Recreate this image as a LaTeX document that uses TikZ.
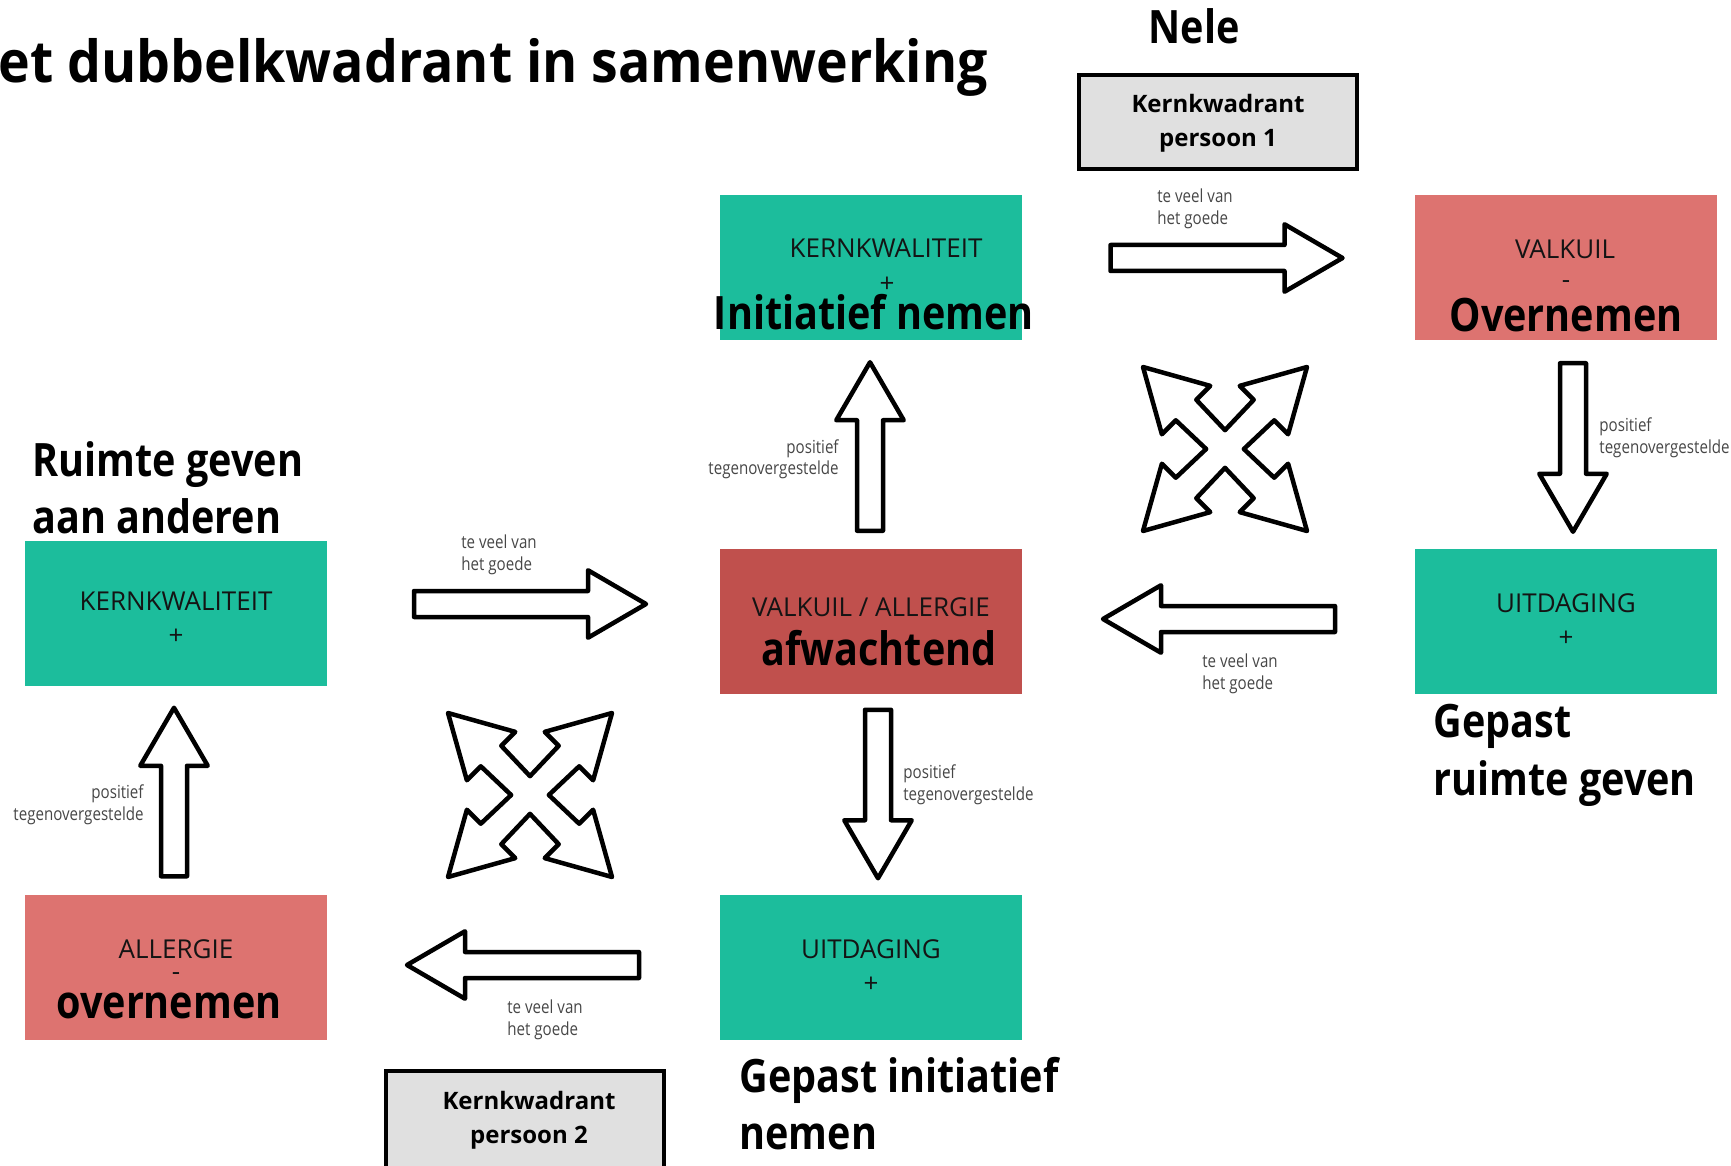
\documentclass[tikz,border=0pt]{standalone}
\usepackage{fontspec}
\setmainfont{Open Sans}
\newfontfamily\notefont{Open Sans}[FakeStretch=0.84]
\newfontfamily\headfont{Open Sans}[FakeStretch=0.86]
\newfontfamily\titlefam{Open Sans}[FakeStretch=0.925]

\definecolor{kqgreen}{RGB}{28,189,156}
\definecolor{vklight}{RGB}{221,115,112}
\definecolor{vkdark}{RGB}{192,80,77}
\definecolor{kwgray}{RGB}{224,224,224}
\definecolor{notegray}{RGB}{70,70,70}
\definecolor{ink}{RGB}{20,20,20}

\tikzset{
  quad/.style={rectangle, inner sep=0pt, minimum width=151pt, minimum height=72.5pt},
  persbox/.style={rectangle, draw=black, line width=2pt, fill=kwgray, inner sep=0pt,
                  minimum width=139pt, minimum height=47pt},
  caps/.style={font=\fontsize{13}{15}\selectfont, text=ink, inner sep=0pt, anchor=base},
  sign/.style={font=\fontsize{13}{15}\selectfont, text=ink, inner sep=0pt, anchor=center},
  heading/.style={font=\headfont\bfseries\fontsize{23}{28}\selectfont, inner sep=0pt},
  titlefont/.style={font=\titlefam\bfseries\fontsize{29}{34}\selectfont, inner sep=0pt},
  persname/.style={font=\bfseries\fontsize{12}{14}\selectfont, inner sep=0pt, anchor=base},
  note/.style={font=\notefont\fontsize{9}{11}\selectfont, text=notegray, inner sep=0pt},
  outline/.style={draw=black, fill=white, line width=2.25pt, line join=round},
  % hollow block arrow of total length #1 (px), centred on the pic origin, pointing right
  pics/blockarrow/.style={code={
    \draw[outline]
      (-#1/2,-13) -- (#1/2-58,-13) -- (#1/2-58,-33.75) -- (#1/2,0)
      -- (#1/2-58,33.75) -- (#1/2-58,13) -- (-#1/2,13) -- cycle;
  }},
  % four diagonal arrows joined in the middle
  pics/crossarrow/.style={code={
    \draw[outline]
      (-1,-1) -- (-0.18,-0.77) -- (-0.35,-0.6) -- (0,-0.23) -- (0.35,-0.6) -- (0.18,-0.77)
      -- (1,-1) -- (0.77,-0.18) -- (0.6,-0.35) -- (0.23,0) -- (0.6,0.35) -- (0.77,0.18)
      -- (1,1) -- (0.18,0.77) -- (0.35,0.6) -- (0,0.23) -- (-0.35,0.6) -- (-0.18,0.77)
      -- (-1,1) -- (-0.77,0.18) -- (-0.6,0.35) -- (-0.23,0) -- (-0.6,-0.35) -- (-0.77,-0.18)
      -- cycle;
  }}
}

\begin{document}
\begin{tikzpicture}[x=0.5pt,y=-0.5pt]
\useasboundingbox (0,0) rectangle (1731,1166);

% headings
\node[titlefont, anchor=base west] (title) at (-2,83) {et dubbelkwadrant in samenwerking};
\node[heading, anchor=base] (nele) at (1194,44) {Nele};

% person boxes
\node[persbox] (p1) at (1218,122) {};
\node[persname] (p1a) at (1218,113) {Kernkwadrant};
\node[persname] (p1b) at (1218,147) {persoon 1};
\node[persbox, minimum height=54.5pt] (p2) at (525,1125.5) {};
\node[persname] (p2a) at (529,1109) {Kernkwadrant};
\node[persname] (p2b) at (529,1143) {persoon 2};

% quadrant boxes, person 1
\node[quad, fill=kqgreen] (kq1) at (871,267.5) {};
\node[quad, fill=vklight] (vk1) at (1566,267.5) {};
\node[quad, fill=vkdark]  (al1) at (871,621.5) {};
\node[quad, fill=kqgreen] (ui1) at (1566,621.5) {};
% quadrant boxes, person 2
\node[quad, fill=kqgreen] (kq2) at (175.5,613.5) {};
\node[quad, fill=vklight] (al2) at (175.5,967) {};
\node[quad, fill=kqgreen] (ui2) at (871,967) {};

% box captions
\node[caps] (kq1t) at (886,258) {KERNKWALITEIT};
\node[sign] (kq1s) at (887,285) {+};
\node[caps] (vk1t) at (1565,259) {VALKUIL};
\node[sign] (vk1s) at (1566,285) {-};
\node[caps] (al1t) at (871,616) {VALKUIL / ALLERGIE};
\node[caps] (ui1t) at (1566,612) {UITDAGING};
\node[sign] (ui1s) at (1566,639) {+};
\node[caps] (kq2t) at (176,610) {KERNKWALITEIT};
\node[sign] (kq2s) at (176,637) {+};
\node[caps] (al2t) at (176,958) {ALLERGIE};
\node[sign] (al2s) at (176,977) {-};
\node[caps] (ui2t) at (871,958) {UITDAGING};
\node[sign] (ui2s) at (871,985) {+};

% bold descriptions
\node[heading, anchor=base] (kq1d) at (874,330) {Initiatief nemen};
\node[heading, anchor=base] (vk1d) at (1566,332) {Overnemen};
\node[heading, anchor=base] (al1d) at (879,665) {afwachtend};
\node[heading, anchor=base] (al2d) at (169,1018) {overnemen};
\node[heading, anchor=base west] (kq2d1) at (32,476) {Ruimte geven};
\node[heading, anchor=base west] (kq2d2) at (32,533) {aan anderen};
\node[heading, anchor=base west] (ui1d1) at (1433,737) {Gepast};
\node[heading, anchor=base west] (ui1d2) at (1433,795) {ruimte geven};
\node[heading, anchor=base west] (ui2d1) at (739,1092) {Gepast initiatief};
\node[heading, anchor=base west] (ui2d2) at (739,1149) {nemen};

% block arrows
\pic (ar1) at (1226.5,258) {blockarrow=232};
\pic[rotate=-90] (ar2) at (1573,447.5) {blockarrow=168.5};
\pic[rotate=180] (ar3) at (1219,619) {blockarrow=232};
\pic[rotate=90] (ar4) at (870,446.5) {blockarrow=168.5};
\pic[rotate=-90] (ar5) at (878,794) {blockarrow=168.5};
\pic (ar6) at (530,604) {blockarrow=232};
\pic[rotate=90] (ar7) at (174,792) {blockarrow=168.5};
\pic[rotate=180] (ar8) at (523,965) {blockarrow=232};

% four-way arrows
\pic[scale=82] (x1) at (1225,449) {crossarrow};
\pic[scale=82] (x2) at (530,795) {crossarrow};

% arrow notes
\node[note, anchor=base west] (n1a) at (1157,203) {te veel van};
\node[note, anchor=base west] (n1b) at (1157,225) {het goede};
\node[note, anchor=base west] (n2a) at (1599,431) {positief};
\node[note, anchor=base west] (n2b) at (1599,453) {tegenovergestelde};
\node[note, anchor=base west] (n3a) at (1202,667) {te veel van};
\node[note, anchor=base west] (n3b) at (1202,689) {het goede};
\node[note, anchor=base east] (n4a) at (839,453) {positief};
\node[note, anchor=base east] (n4b) at (839,474) {tegenovergestelde};
\node[note, anchor=base west] (n5a) at (903,778) {positief};
\node[note, anchor=base west] (n5b) at (903,800) {tegenovergestelde};
\node[note, anchor=base west] (n6a) at (461,548) {te veel van};
\node[note, anchor=base west] (n6b) at (461,570) {het goede};
\node[note, anchor=base east] (n7a) at (144,798) {positief};
\node[note, anchor=base east] (n7b) at (144,820) {tegenovergestelde};
\node[note, anchor=base west] (n8a) at (507,1013) {te veel van};
\node[note, anchor=base west] (n8b) at (507,1035) {het goede};
\end{tikzpicture}
\end{document}
